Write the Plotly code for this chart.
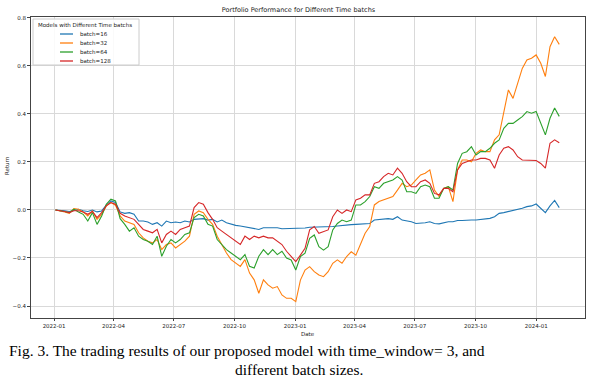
import pandas as pd
import plotly.graph_objects as go

# weekly sample dates
dates = pd.date_range("2022-01-03", periods=110, freq="7D")

series_names = ["batch=16", "batch=32", "batch=64", "batch=128"]
colors = ["#1f77b4", "#ff7f0e", "#2ca02c", "#d62728"]

batch16 = [0, 0.000, -0.003, -0.006, 0.000, 0.003, -0.003, -0.006, 0.000, -0.008,
           -0.004, 0.020, 0.038, 0.031, -0.008, -0.014, -0.011, -0.018, -0.046, -0.046,
           -0.050, -0.060, -0.053, -0.067, -0.046, -0.053, -0.050, -0.053, -0.046, -0.050,
           -0.039, -0.039, -0.036, -0.042, -0.039, -0.050, -0.042, -0.053, -0.060, -0.064,
           -0.067, -0.070, -0.074, -0.078, -0.081, -0.074, -0.073, -0.075, -0.074, -0.078,
           -0.078, -0.076, -0.076, -0.076, -0.075, -0.072, -0.072, -0.072, -0.072, -0.071,
           -0.069, -0.067, -0.064, -0.063, -0.061, -0.060, -0.058, -0.058, -0.056, -0.042,
           -0.039, -0.039, -0.036, -0.039, -0.028, -0.042, -0.044, -0.049, -0.056, -0.056,
           -0.053, -0.049, -0.056, -0.058, -0.053, -0.049, -0.049, -0.044, -0.044, -0.042,
           -0.042, -0.042, -0.039, -0.039, -0.035, -0.028, -0.014, -0.011, -0.007, -0.003,
           0.003, 0.007, 0.014, 0.017, 0.025, 0.007, -0.011, 0.017, 0.040, 0.010]

batch32 = [0, -0.003, -0.008, -0.014, 0.006, 0.003, -0.008, -0.025, -0.004, -0.039,
           -0.018, 0.017, 0.031, 0.020, -0.025, -0.046, -0.053, -0.060, -0.095, -0.116,
           -0.130, -0.137, -0.123, -0.165, -0.144, -0.137, -0.158, -0.144, -0.130, -0.109,
           -0.018, -0.004, -0.011, -0.039, -0.060, -0.109, -0.144, -0.179, -0.207, -0.221,
           -0.235, -0.207, -0.263, -0.291, -0.347, -0.291, -0.312, -0.326, -0.319, -0.354,
           -0.368, -0.368, -0.382, -0.292, -0.250, -0.236, -0.257, -0.271, -0.278, -0.257,
           -0.222, -0.208, -0.222, -0.194, -0.174, -0.188, -0.139, -0.097, -0.069, 0.021,
           0.035, 0.042, 0.049, 0.056, 0.083, 0.111, 0.097, 0.104, 0.125, 0.146,
           0.153, 0.167, 0.083, 0.056, 0.090, 0.097, 0.035, 0.167, 0.208, 0.208,
           0.201, 0.236, 0.250, 0.243, 0.243, 0.292, 0.313, 0.403, 0.500, 0.465,
           0.528, 0.590, 0.625, 0.632, 0.646, 0.611, 0.556, 0.680, 0.722, 0.690]

batch64 = [0, -0.002, -0.006, -0.011, 0.003, -0.008, -0.018, -0.046, -0.011, -0.060,
           -0.025, 0.024, 0.045, 0.038, -0.036, -0.060, -0.088, -0.074, -0.109, -0.123,
           -0.130, -0.144, -0.109, -0.193, -0.151, -0.123, -0.137, -0.123, -0.102, -0.095,
           -0.032, -0.018, -0.025, -0.060, -0.067, -0.123, -0.144, -0.165, -0.179, -0.193,
           -0.207, -0.186, -0.235, -0.242, -0.193, -0.165, -0.186, -0.165, -0.186, -0.172,
           -0.200, -0.208, -0.250, -0.194, -0.180, -0.118, -0.104, -0.153, -0.167, -0.153,
           -0.083, -0.056, -0.042, -0.049, -0.042, 0.021, 0.021, 0.035, 0.056, 0.097,
           0.090, 0.111, 0.118, 0.125, 0.139, 0.125, 0.076, 0.076, 0.069, 0.097,
           0.104, 0.097, 0.049, 0.049, 0.090, 0.097, 0.083, 0.194, 0.236, 0.243,
           0.264, 0.229, 0.243, 0.243, 0.257, 0.278, 0.292, 0.340, 0.361, 0.361,
           0.375, 0.389, 0.410, 0.403, 0.410, 0.361, 0.313, 0.382, 0.425, 0.390]

batch128 = [0, -0.002, -0.006, -0.011, -0.003, -0.003, -0.008, -0.018, -0.006, -0.032,
            -0.011, 0.017, 0.031, 0.024, -0.014, -0.025, -0.032, -0.039, -0.060, -0.081,
            -0.088, -0.095, -0.081, -0.137, -0.102, -0.088, -0.102, -0.081, -0.074, -0.067,
            0.010, 0.031, 0.024, -0.011, -0.039, -0.074, -0.088, -0.102, -0.116, -0.130,
            -0.144, -0.109, -0.123, -0.109, -0.116, -0.109, -0.116, -0.116, -0.130, -0.144,
            -0.172, -0.194, -0.215, -0.188, -0.160, -0.083, -0.069, -0.097, -0.090, -0.083,
            -0.028, 0.000, -0.014, 0.000, -0.007, 0.042, 0.049, 0.063, 0.063, 0.111,
            0.118, 0.139, 0.153, 0.146, 0.174, 0.153, 0.118, 0.097, 0.097, 0.118,
            0.125, 0.111, 0.069, 0.063, 0.090, 0.090, 0.076, 0.167, 0.194, 0.201,
            0.208, 0.208, 0.215, 0.215, 0.208, 0.174, 0.229, 0.257, 0.264, 0.250,
            0.222, 0.208, 0.208, 0.206, 0.206, 0.194, 0.174, 0.278, 0.292, 0.280]

all_series = [batch16, batch32, batch64, batch128]

y_ticks = [-0.4, -0.2, 0.0, 0.2, 0.4, 0.6, 0.8]
x_ticks = ["2022-01-01", "2022-04-01", "2022-07-01", "2022-10-01", "2023-01-01",
           "2023-04-01", "2023-07-01", "2023-10-01", "2024-01-01"]
x_tick_labels = ["2022-01", "2022-04", "2022-07", "2022-10", "2023-01",
                 "2023-04", "2023-07", "2023-10", "2024-01"]

W, H = 597, 386
L, R, T, B = 31, 12, 17, 68
pw, ph = W - L - R, H - T - B

def px2x(px):
    return (px - L) / pw

def py2y(py):
    return (H - B - py) / ph

font = "DejaVu Sans"
fig = go.Figure()
for name, vals, c in zip(series_names, all_series, colors):
    fig.add_trace(go.Scatter(x=dates, y=vals, mode="lines", name=name,
                             line=dict(color=c, width=1.1), showlegend=False))

fig.update_layout(
    width=W, height=H,
    margin=dict(l=L, r=R, t=T, b=B),
    paper_bgcolor="white", plot_bgcolor="white",
    font=dict(family=font, size=5.5, color="#222"),
    title=dict(text="Portfolio Performance for Different Time batchs",
               x=px2x(308), xanchor="center", y=1 - 10 / H, yanchor="middle",
               font=dict(size=6.5, color="#222", family=font)),
    xaxis=dict(range=["2021-11-27", "2024-03-15"], tickvals=x_ticks, ticktext=x_tick_labels,
               showgrid=True, gridcolor="#d9d9d9", gridwidth=1,
               showline=True, linecolor="#444", linewidth=1, mirror=True,
               ticks="outside", ticklen=2, tickcolor="#444", zeroline=False,
               tickfont=dict(size=5.5, family=font, color="#222")),
    yaxis=dict(range=[-0.45, 0.804], tickvals=y_ticks, tickformat=".1f",
               showgrid=True, gridcolor="#d9d9d9", gridwidth=1,
               showline=True, linecolor="#444", linewidth=1, mirror=True,
               ticks="outside", ticklen=3, tickcolor="#444", zeroline=False,
               tickfont=dict(size=5.5, family=font, color="#222")),
)

def ann(text, px, py, size=5.5, family=font, color="#222", xanchor="center", **kw):
    return dict(text=text, x=px2x(px), y=py2y(py), xref="paper", yref="paper",
                xanchor=xanchor, yanchor="middle", showarrow=False,
                font=dict(size=size, family=family, color=color), **kw)

annotations = [
    ann("Date", 308, 334),
    ann("Return", 7, 166, textangle=-90),
    ann("Fig. 3. The trading results of our proposed model with time_window= 3, and",
        7, 350, size=15.5, family="Liberation Serif", color="#000", xanchor="left"),
    ann("different batch sizes.", 299, 369, size=15.5, family="Liberation Serif", color="#000"),
    ann("Models with Different Time batchs", 36, 25, xanchor="left"),
]
shapes = [dict(type="rect", xref="paper", yref="paper",
               x0=px2x(33), x1=px2x(139), y0=py2y(65), y1=py2y(19),
               line=dict(color="#cccccc", width=1), fillcolor="rgba(255,255,255,0.85)",
               layer="above")]
legend_y = [34, 43, 52, 61]
for name, c, ly in zip(series_names, colors, legend_y):
    shapes.append(dict(type="line", xref="paper", yref="paper",
                       x0=px2x(60), x1=px2x(73), y0=py2y(ly), y1=py2y(ly),
                       line=dict(color=c, width=1.3), layer="above"))
    annotations.append(ann(name, 78, ly, xanchor="left"))

fig.update_layout(annotations=annotations, shapes=shapes)
fig.write_html("out.html", config={"displayModeBar": False},
               post_script="document.body.style.margin='0px';document.body.style.padding='0px';")
